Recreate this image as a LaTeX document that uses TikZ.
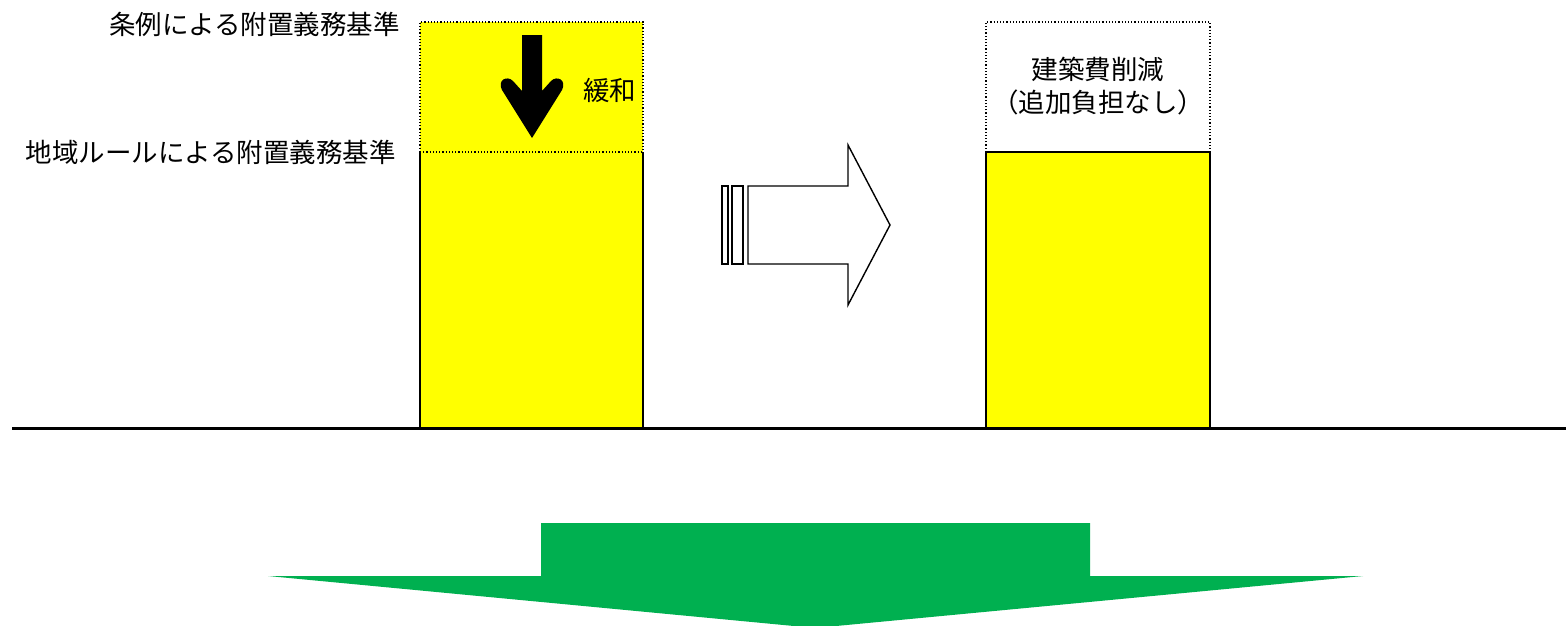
\documentclass[tikz,border=0pt]{standalone}
\usepackage{fontspec}
\setmainfont{Noto Sans CJK JP}
\begin{document}
\begin{tikzpicture}[x=1pt,y=-1pt,
  lbl/.style={font=\fontsize{26.5}{33}\selectfont, inner sep=0pt},
  solidbox/.style={draw=black, line width=1.6pt, fill=yel},
  dotbox/.style={draw=black, line width=1.2pt, dotted},
  ground/.style={line width=3pt},
  hollow/.style={draw=black, line width=1.4pt, fill=white, line join=miter}]
\useasboundingbox (0,0) rectangle (1566,625);
\definecolor{grn}{HTML}{00B050}
\definecolor{yel}{HTML}{FFFF00}
% left column
\fill[yel] (420,22) rectangle (643,428);
\draw[dotbox] (420,152) -- (420,22) -- (643,22) -- (643,152);
\draw[solidbox, fill=none] (420,152) -- (420,428) (643,152) -- (643,428);
\draw[dotbox] (420,152) -- (643,152);
% black arrow
\fill[black] (522,35) -- (542,35) -- (542,91) -- (551,81)
  .. controls (557,75) and (567,80) .. (562,90)
  -- (532,138) -- (502,90)
  .. controls (497,80) and (507,75) .. (513,81)
  -- (522,91) -- cycle;
\node[lbl, anchor=west] (kanwa) at (583,90) {緩和};
\node[lbl, anchor=east] (jorei) at (400,24) {条例による附置義務基準};
\node[lbl, anchor=east] (chiiki) at (396,152) {地域ルールによる附置義務基準};
% white arrow
\draw[hollow] (722,186) rectangle (728,264);
\draw[hollow] (732,186) rectangle (743,264);
\draw[hollow] (748,186) -- (848,186) -- (848,145) -- (890,225) -- (848,305) -- (848,264) -- (748,264) -- cycle;
% right column
\draw[dotbox] (986,152) -- (986,22) -- (1210,22) -- (1210,152);
\draw[solidbox] (986,428) -- (986,152) -- (1210,152) -- (1210,428);
\node[lbl, align=center] (cut) at (1098,86) {建築費削減\\（追加負担なし）};
% ground line
\draw[ground] (12,428) -- (1566,428);
% green arrow
\fill[grn] (541,523) -- (1090,523) -- (1090,576) -- (1363,576) -- (815,628) -- (268,576) -- (541,576) -- cycle;
\end{tikzpicture}
\end{document}
